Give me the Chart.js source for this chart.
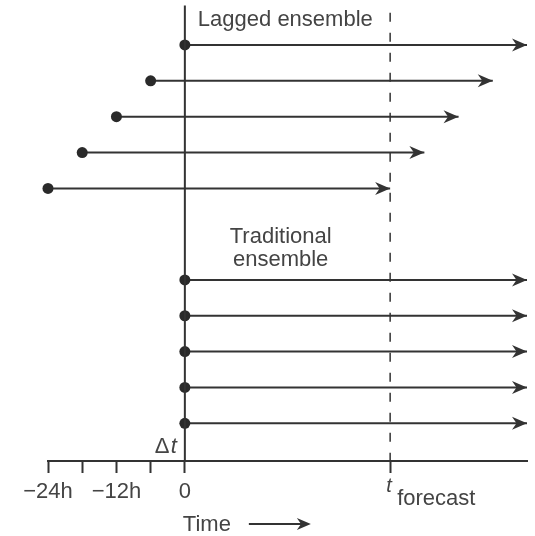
<!DOCTYPE html>
<html>
<head>
<meta charset="utf-8">
<script src="https://cdn.jsdelivr.net/npm/chart.js@4"></script>
<style>
  body { margin: 0; background: #fff; }
  #wrap { width: 535px; height: 536px; }
</style>
</head>
<body>
<div id="wrap"><canvas id="grafico" width="535" height="536"></canvas></div>
<script>
// dados (horas)
const lagStart = [0, -6, -12, -18, -24];
const lagEnd = [60, 54, 48, 42, 36];
const lagRow = [1.1, 2.1, 3.1, 4.1, 5.1];
const tradStart = [0, 0, 0, 0, 0];
const tradEnd = [60, 60, 60, 60, 60];
const tradRow = [7.65, 8.65, 9.65, 10.65, 11.65];
const xTicks = [-24, -18, -12, -6, 0, 36];
const xTickLabels = ['\u221224h', '', '\u221212h', '', '0', ''];
const tForecast = 36;

const ink = '#333';
const textInk = '#444';
const fonte = '"Liberation Sans", Arial, sans-serif';

function seta(start, end, row) {
  return {
    data: [{ x: start, y: row }, { x: end, y: row }],
    showLine: true,
    borderColor: ink,
    backgroundColor: '#2a2a2a',
    borderWidth: 2,
    pointRadius: [5.5, 0],
    pointHoverRadius: 0,
    pointBorderWidth: 0,
    clip: false,
    arrow: true
  };
}

const datasets = [];
// linha vertical em t=0
datasets.push({
  data: [{ x: 0, y: 0 }, { x: 0, y: 12.7 }],
  showLine: true, borderColor: ink, borderWidth: 2, pointRadius: 0, clip: false
});
// linha tracejada em t forecast
datasets.push({
  data: [{ x: tForecast, y: 0.2 }, { x: tForecast, y: 12.7 }],
  showLine: true, borderColor: ink, borderWidth: 1.5, borderDash: [9, 11], pointRadius: 0, clip: false
});
lagStart.forEach((s, i) => datasets.push(seta(s, lagEnd[i], lagRow[i])));
tradStart.forEach((s, i) => datasets.push(seta(s, tradEnd[i], tradRow[i])));

function pontaSeta(ctx, x, y, len, half) {
  ctx.beginPath();
  ctx.moveTo(x, y);
  ctx.lineTo(x - len, y - half);
  ctx.lineTo(x - len * 0.7, y);
  ctx.lineTo(x - len, y + half);
  ctx.closePath();
  ctx.fill();
}

const anotacoes = {
  id: 'anotacoes',
  afterDraw(chart) {
    const ctx = chart.ctx;
    const xs = chart.scales.x;
    const ys = chart.scales.y;
    ctx.save();
    ctx.fillStyle = ink;
    // pontas das setas
    chart.data.datasets.forEach((ds, i) => {
      if (!ds.arrow) return;
      const pts = chart.getDatasetMeta(i).data;
      const p = pts[pts.length - 1];
      pontaSeta(ctx, p.x, p.y, 15, 6.5);
    });

    ctx.fillStyle = textInk;
    ctx.textBaseline = 'alphabetic';
    ctx.font = '22px ' + fonte;
    const x0 = xs.getPixelForValue(0);
    const xf = xs.getPixelForValue(tForecast);
    const yAxis = chart.chartArea.bottom;

    ctx.textAlign = 'left';
    ctx.fillText('Lagged ensemble', x0 + 13, 26);

    ctx.textAlign = 'center';
    const cx = xs.getPixelForValue(16.8);
    ctx.fillText('Traditional', cx, ys.getPixelForValue(6.5) + 4);
    ctx.fillText('ensemble', cx, ys.getPixelForValue(7.15) + 4);

    // Δt
    ctx.textAlign = 'left';
    ctx.fillText('\u0394', x0 - 30, yAxis - 8);
    ctx.font = 'italic 22px ' + fonte;
    ctx.fillText('t', x0 - 14, yAxis - 8);

    // t forecast
    ctx.font = 'italic 20px ' + fonte;
    ctx.fillText('t', xf - 4, yAxis + 31);
    ctx.font = '22px ' + fonte;
    ctx.fillText('forecast', xf + 7, yAxis + 44);

    // Time ->
    ctx.fillText('Time', x0 - 2, 531);
    ctx.strokeStyle = ink;
    ctx.lineWidth = 2;
    ctx.beginPath();
    ctx.moveTo(x0 + 64, 524);
    ctx.lineTo(x0 + 120, 524);
    ctx.stroke();
    ctx.fillStyle = ink;
    pontaSeta(ctx, x0 + 126, 524, 14, 6);
    ctx.restore();
  }
};

new Chart(document.getElementById('grafico').getContext('2d'), {
  type: 'scatter',
  data: { datasets: datasets },
  options: {
    responsive: false,
    animation: false,
    layout: { padding: { left: 48, right: 8, top: 5, bottom: 0 } },
    plugins: { legend: { display: false }, tooltip: { enabled: false } },
    scales: {
      x: {
        type: 'linear',
        min: -24,
        max: 60,
        afterBuildTicks: s => { s.ticks = xTicks.map(v => ({ value: v })); },
        afterFit: s => { s.height = 75; },
        border: { display: true, color: ink, width: 2 },
        grid: { drawOnChartArea: false, drawTicks: true, tickLength: 12, tickWidth: 2, tickColor: ink, color: ink },
        ticks: {
          autoSkip: false,
          maxRotation: 0,
          padding: 6,
          color: textInk,
          font: { family: fonte, size: 22 },
          callback: (v) => {
            const i = xTicks.indexOf(v);
            return i >= 0 ? xTickLabels[i] : '';
          }
        }
      },
      y: { display: false, min: 0, max: 12.7, reverse: true }
    }
  },
  plugins: [anotacoes]
});
</script>
</body>
</html>
